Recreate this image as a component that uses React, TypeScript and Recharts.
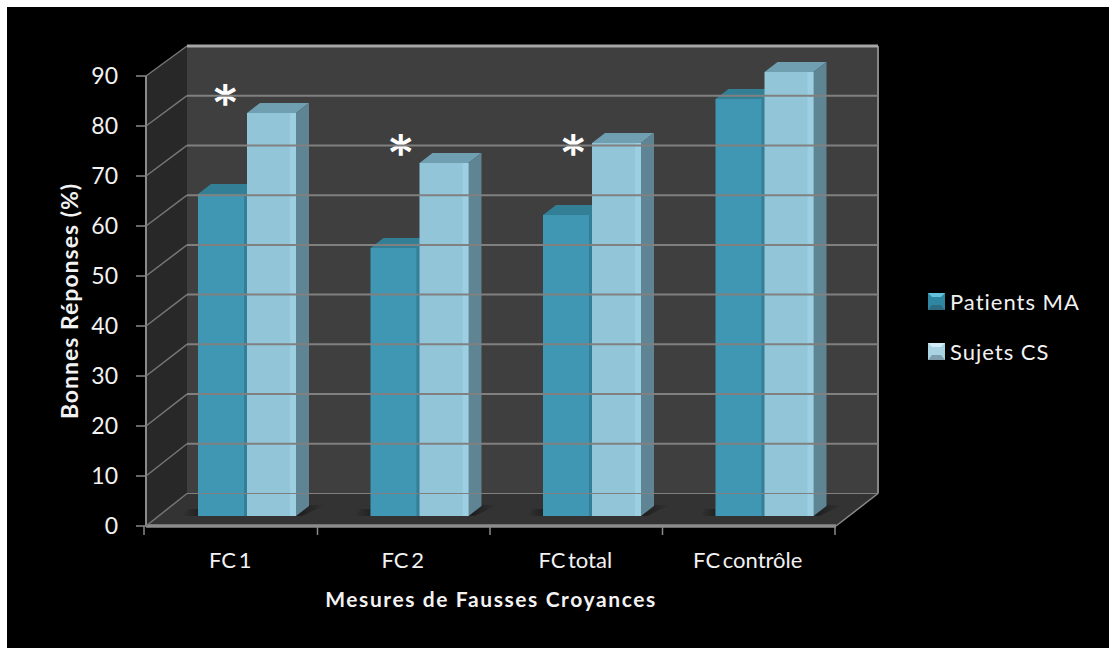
import React from 'react';
import {
  BarChart, Bar, XAxis, YAxis, Legend, Customized, ReferenceDot,
} from 'recharts';

const categories = ['FC 1', 'FC 2', 'FC total', 'FC contrôle'];
const patientsMA = [64.4, 53.6, 60.2, 83.4];
const sujetsCS = [80.6, 70.6, 74.6, 88.8];
const yTicks = [0, 10, 20, 30, 40, 50, 60, 70, 80, 90];
// Significant differences, marked above the bars
const starCategories = ['FC 1', 'FC 2', 'FC total'];
const starHeights = [86.4, 76.4, 76.4];

const data = categories.map((name, i) => ({
  name,
  patients: patientsMA[i],
  sujets: sujetsCS[i],
}));

const FONT = 'Lato, "Open Sans", sans-serif';
const WIDTH = 1109;
const HEIGHT = 648;
const LEFT = 146;
const RIGHT = 836;
const TOP = 76;
const BOTTOM = 526;
// Back wall of the 3D box
const BACK_LEFT = 187;
const BACK_RIGHT = 878;
const BACK_TOP = 46;
const BACK_BOTTOM = 493.5;
// Bars stand a little behind the front plane
const BAR_DX = 15;
const BAR_DY = 10;
const DEPTH_X = 13;
const DEPTH_Y = 10;
const STAR_DX: Record<string, number> = { 'FC 1': -7, 'FC 2': -4, 'FC total': -4 };

const Walls = () => (
  <g>
    <rect x={7} y={7} width={WIDTH - 7} height={HEIGHT - 7} fill="#000" />
    <polygon
      points={`${LEFT},${TOP} ${BACK_LEFT},${BACK_TOP} ${BACK_LEFT},${BACK_BOTTOM} ${LEFT},${BOTTOM}`}
      fill="#282828"
    />
    <rect x={BACK_LEFT} y={BACK_TOP} width={BACK_RIGHT - BACK_LEFT} height={BACK_BOTTOM - BACK_TOP} fill="#3f3f3f" />
    <polygon
      points={`${LEFT},${BOTTOM} ${BACK_LEFT},${BACK_BOTTOM} ${BACK_RIGHT},${BACK_BOTTOM} ${RIGHT},${BOTTOM}`}
      fill="#333"
    />
    <line x1={BACK_RIGHT} y1={BACK_TOP} x2={BACK_RIGHT} y2={BACK_BOTTOM} stroke="#868686" strokeWidth={2} />
    <line x1={BACK_RIGHT} y1={BACK_BOTTOM} x2={RIGHT} y2={BOTTOM} stroke="#8a8a8a" strokeWidth={1.5} />
  </g>
);

// Value tick: label, tick mark, slanted line on the side wall, line on the back wall
const ValueTick = (props: any) => {
  const { y, payload } = props;
  const isTop = payload.value === 90;
  const isZero = payload.value === 0;
  const t = (y - TOP) / (BOTTOM - TOP);
  const backY = BACK_TOP + t * (BACK_BOTTOM - BACK_TOP);
  return (
    <g>
      <line x1={LEFT - 10} y1={y} x2={LEFT} y2={y} stroke="#8a8a8a" strokeWidth={1.5} />
      <line x1={LEFT} y1={y} x2={BACK_LEFT} y2={backY} stroke="#767676" strokeWidth={1.5} />
      <line
        x1={BACK_LEFT}
        y1={backY}
        x2={BACK_RIGHT}
        y2={backY}
        stroke={isTop ? '#a6a6a6' : '#808080'}
        strokeWidth={isZero ? 1 : isTop ? 3 : 2}
      />
      <text x={118} y={y + 8} textAnchor="end" fill="#f2f2f2" fontFamily={FONT} fontSize={23}>
        {payload.value}
      </text>
    </g>
  );
};

// Category label centred in its band, tick marks on the band edges
const CategoryTick = (props: any) => {
  const { x, y, payload, index } = props;
  const band = (RIGHT - LEFT) / categories.length;
  const mark = (px: number, key: string) => (
    <line key={key} x1={px} y1={BOTTOM} x2={px} y2={BOTTOM + 9} stroke="#8a8a8a" strokeWidth={1.5} />
  );
  return (
    <g>
      {index === 0 && mark(x - band / 2 - 2, 'first')}
      {mark(x + band / 2 - 1, 'next')}
      <text x={x - 2} y={y + 34} textAnchor="middle" fill="#f2f2f2" fontFamily={FONT} fontSize={22} wordSpacing={-3}>
        {payload.value}
      </text>
    </g>
  );
};

const BAR_COLORS: Record<string, { front: string; edge: string; side: string; top: string }> = {
  '#4097b3': { front: '#4097b3', edge: '#347f98', side: '#2a6f85', top: '#337f96' },
  '#93c5d9': { front: '#93c5d9', edge: '#9dcfe2', side: '#5f8494', top: '#6f9fb1' },
};

const Bar3D = (props: any) => {
  const { x, y, width, height, fill } = props;
  const c = BAR_COLORS[fill];
  const light = fill === '#93c5d9';
  const bx = x + BAR_DX;
  const by = y - BAR_DY;
  const base = by + height;
  const right = bx + width;
  return (
    <g>
      <polygon
        points={`${right},${base} ${right + DEPTH_X},${base - DEPTH_Y - 1} ${right + DEPTH_X + 16},${base - DEPTH_Y - 1} ${right + 6},${base}`}
        fill="url(#floorShadeRight)"
      />
      {!light && (
        <polygon
          points={`${bx},${base} ${bx},${base - 7} ${bx - 10},${base - 7} ${bx - 16},${base}`}
          fill="url(#floorShadeLeft)"
        />
      )}
      <polygon
        points={`${bx},${by} ${bx + DEPTH_X},${by - DEPTH_Y} ${right + DEPTH_X},${by - DEPTH_Y} ${right},${by}`}
        fill={c.top}
      />
      <polygon
        points={`${right},${by} ${right + DEPTH_X},${by - DEPTH_Y} ${right + DEPTH_X},${base - DEPTH_Y} ${right},${base}`}
        fill={c.side}
      />
      <rect x={bx} y={by} width={width} height={height} fill={c.front} />
      <rect x={right - (light ? 6 : 3)} y={by} width={light ? 6 : 3} height={height} fill={c.edge} />
    </g>
  );
};

const Star = (props: any) => (
  <text
    x={props.cx + (props.dx0 ?? 0)}
    y={props.cy + 24}
    textAnchor="middle"
    fill="#fff"
    stroke="#fff"
    strokeWidth={1.4}
    fontFamily='"DejaVu Sans", sans-serif'
    fontSize={44}
  >
    *
  </text>
);

const Swatch = ({ color, top, bottom }: { color: string; top: string; bottom: string }) => (
  <svg width={17} height={17} style={{ display: 'block', flex: 'none' }}>
    <rect width={17} height={17} fill={color} />
    <polygon points="0,0 17,0 13,4 4,4" fill={top} />
    <polygon points="0,17 17,17 13,12 4,12" fill={bottom} />
  </svg>
);

const LegendBox = ({ payload }: any) => (
  <div>
    {(payload || []).map((entry: any) => {
      const light = entry.color === '#93c5d9';
      return (
        <div key={entry.value} style={{ display: 'flex', alignItems: 'center', height: 50 }}>
          <Swatch
            color={light ? '#a9d3e3' : '#2f86a3'}
            top={light ? '#d3eef8' : '#62c3dc'}
            bottom={light ? '#7f9fae' : '#2c6b80'}
          />
          <span
            style={{
              marginLeft: 5,
              color: '#f2f2f2',
              fontFamily: FONT,
              fontSize: 22,
              letterSpacing: 1,
              whiteSpace: 'nowrap',
            }}
          >
            {entry.value}
          </span>
        </div>
      );
    })}
  </div>
);

export default function App() {
  return (
    <div style={{ position: 'absolute', left: 0, top: 0, width: WIDTH, height: HEIGHT, overflow: 'hidden' }}>
      <BarChart
        width={WIDTH}
        height={HEIGHT}
        data={data}
        margin={{ top: TOP, right: WIDTH - RIGHT, bottom: HEIGHT - BOTTOM - 90, left: LEFT - 90 }}
        barSize={49}
        barGap={0}
      >
        <defs>
          <linearGradient id="floorShadeRight" x1="0" y1="0" x2="1" y2="0">
            <stop offset="0" stopColor="#1c1c1c" />
            <stop offset="1" stopColor="#333" />
          </linearGradient>
          <linearGradient id="floorShadeLeft" x1="1" y1="0" x2="0" y2="0">
            <stop offset="0" stopColor="#222" />
            <stop offset="1" stopColor="#333" />
          </linearGradient>
        </defs>
        <Customized component={Walls} />
        <XAxis
          dataKey="name"
          axisLine={{ stroke: '#8c8c8c', strokeWidth: 3.5 }}
          tickLine={false}
          height={90}
          tick={<CategoryTick />}
          interval={0}
          label={{
            value: 'Mesures de Fausses Croyances',
            position: 'insideBottom',
            offset: 9,
            fill: '#f2f2f2',
            fontFamily: FONT,
            fontSize: 21,
            fontWeight: 700,
            letterSpacing: 1.6,
          }}
        />
        <YAxis
          domain={[0, 90]}
          ticks={yTicks}
          width={90}
          interval={0}
          axisLine={{ stroke: '#8a8a8a', strokeWidth: 2 }}
          tickLine={false}
          tick={<ValueTick />}
          label={{
            value: 'Bonnes Réponses (%)',
            angle: -90,
            position: 'insideLeft',
            offset: 14,
            style: { textAnchor: 'middle' },
            fill: '#f2f2f2',
            fontFamily: FONT,
            fontSize: 23,
            fontWeight: 700,
            letterSpacing: 1,
          }}
        />
        <Legend
          layout="vertical"
          align="center"
          verticalAlign="middle"
          content={<LegendBox />}
          wrapperStyle={{ position: 'absolute', left: 928, top: 276, width: 175, height: 100 }}
        />
        <Bar dataKey="patients" name="Patients MA" fill="#4097b3" shape={<Bar3D />} isAnimationActive={false} />
        <Bar dataKey="sujets" name="Sujets CS" fill="#93c5d9" shape={<Bar3D />} isAnimationActive={false} />
        {starCategories.map((c, i) => (
          <ReferenceDot key={c} x={c} y={starHeights[i]} r={1} shape={<Star dx0={STAR_DX[c]} />} />
        ))}
      </BarChart>
    </div>
  );
}
